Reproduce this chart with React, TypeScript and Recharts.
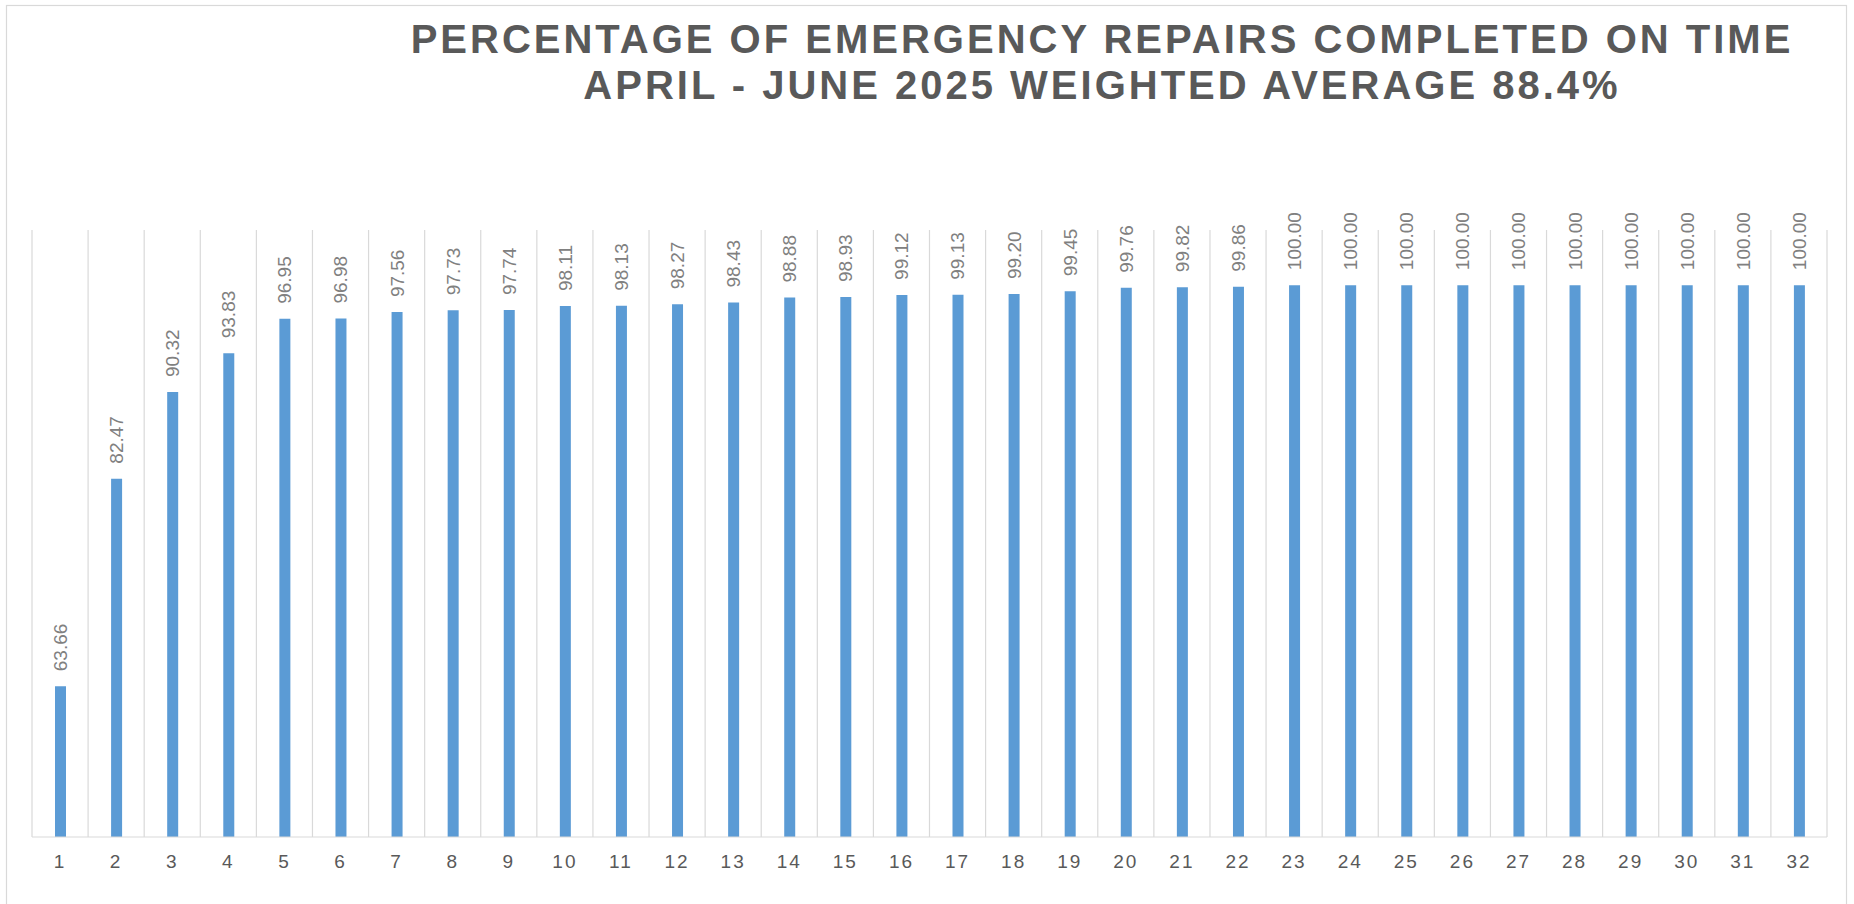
import React from "react";
import { BarChart, Bar, XAxis, YAxis, CartesianGrid, LabelList } from "recharts";

const titleLines = [
  "PERCENTAGE OF EMERGENCY REPAIRS COMPLETED ON TIME",
  "APRIL - JUNE 2025 WEIGHTED AVERAGE 88.4%",
];

const categories = [
  "1", "2", "3", "4", "5", "6", "7", "8", "9", "10", "11", "12", "13", "14", "15", "16",
  "17", "18", "19", "20", "21", "22", "23", "24", "25", "26", "27", "28", "29", "30", "31", "32",
];

const values = [
  63.66, 82.47, 90.32, 93.83, 96.95, 96.98, 97.56, 97.73, 97.74, 98.11, 98.13, 98.27, 98.43,
  98.88, 98.93, 99.12, 99.13, 99.2, 99.45, 99.76, 99.82, 99.86, 100, 100, 100, 100, 100, 100,
  100, 100, 100, 100,
];

const yDomain: [number, number] = [50, 105];

const data = categories.map((c, i) => ({ name: c, value: values[i] }));

const FONT = '"Liberation Sans", Arial, Helvetica, sans-serif';

const W = 1854;
const H = 904;

const renderLabel = (props: any) => {
  const { x, y, width, value } = props;
  const cx = Number(x) + Number(width) / 2;
  const cy = Number(y) - 15;
  return (
    <text
      x={cx}
      y={cy}
      transform={`rotate(-90, ${cx}, ${cy})`}
      textAnchor="start"
      dominantBaseline="central"
      fill="#808080"
      fontSize={19}
      fontFamily={FONT}
    >
      {Number(value).toFixed(2)}
    </text>
  );
};

export default function App() {
  return (
    <div style={{ position: "absolute", left: 0, top: 0, width: W, height: H, background: "#fff" }}>
      <svg
        width={W}
        height={H}
        style={{ position: "absolute", left: 0, top: 0, pointerEvents: "none" }}
      >
        <rect x={6.5} y={5.5} width={1840} height={1000} fill="none" stroke="#d9d9d9" strokeWidth={1.2} />
        <text
          x={1102}
          y={53}
          textAnchor="middle"
          fontFamily={FONT}
          fontWeight="bold"
          fontSize={40}
          letterSpacing={3}
          fill="#595959"
        >
          {titleLines[0]}
        </text>
        <text
          x={1102}
          y={99}
          textAnchor="middle"
          fontFamily={FONT}
          fontWeight="bold"
          fontSize={40}
          letterSpacing={3}
          fill="#595959"
        >
          {titleLines[1]}
        </text>
      </svg>
      <div style={{ position: "absolute", left: 0, top: 0 }}>
        <BarChart
          width={W}
          height={H}
          data={data}
          margin={{ top: 230, right: 27, bottom: 37, left: 32 }}
        >
          <CartesianGrid
            horizontal={false}
            stroke="#d9d9d9"
            strokeWidth={1.2}
            verticalCoordinatesGenerator={({ offset }: any) =>
              Array.from({ length: categories.length + 1 }, (_, i) => offset.left + (i * offset.width) / categories.length)
            }
          />
          <XAxis
            dataKey="name"
            height={30}
            axisLine={{ stroke: "#d9d9d9", strokeWidth: 1.2 }}
            tickLine={false}
            tickSize={0}
            tickMargin={18}
            interval={0}
            tick={{ fill: "#595959", fontSize: 19, fontFamily: FONT, letterSpacing: 2 }}
          />
          <YAxis hide domain={yDomain} allowDataOverflow type="number" />
          <Bar dataKey="value" fill="#5b9bd5" barSize={11} isAnimationActive={false}>
            <LabelList dataKey="value" content={renderLabel} />
          </Bar>
        </BarChart>
      </div>
    </div>
  );
}
